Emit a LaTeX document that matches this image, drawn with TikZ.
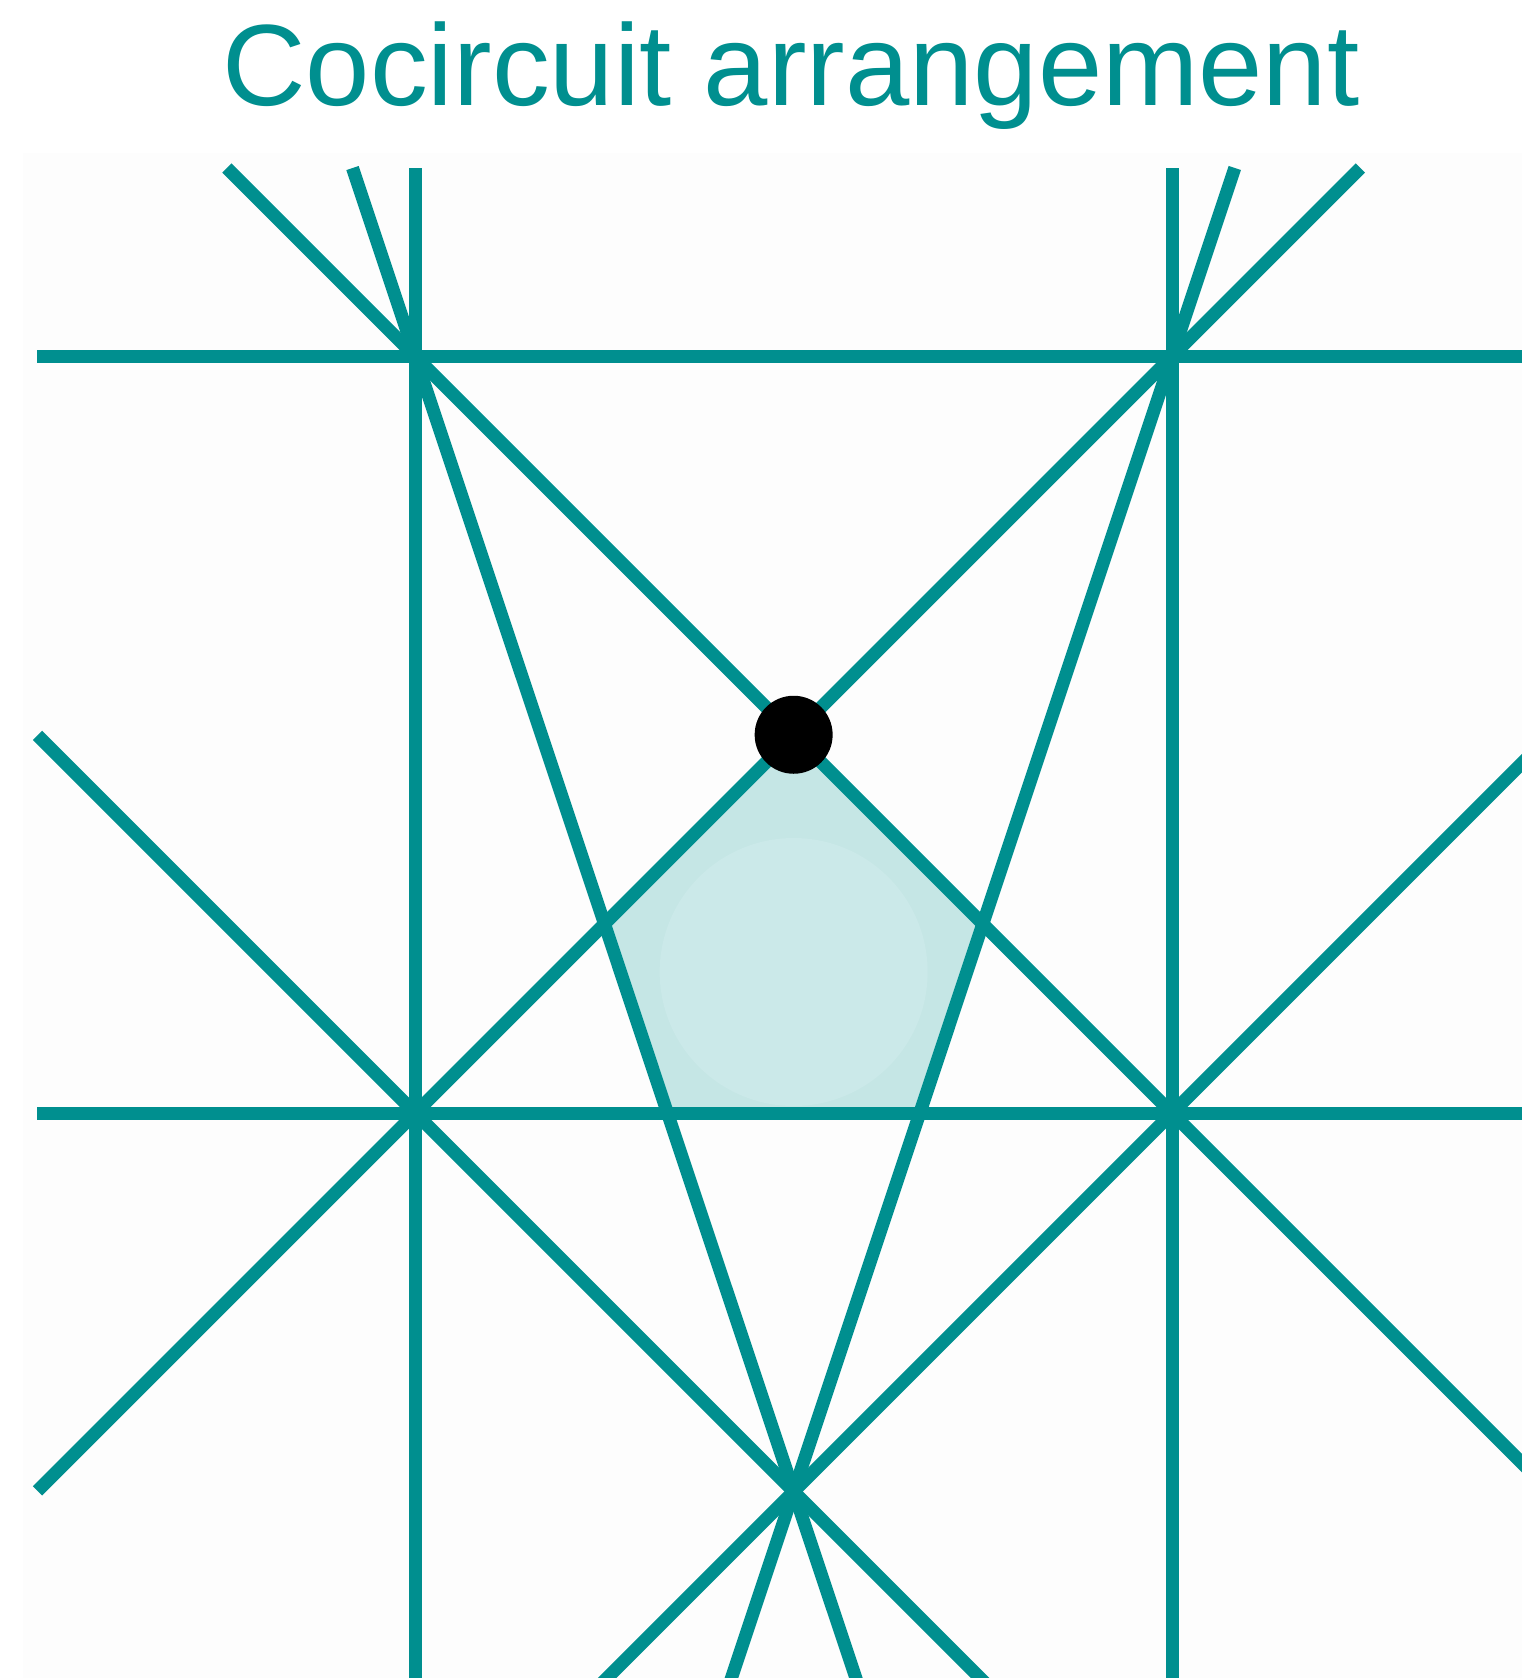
\documentclass[tikz,border=0pt]{standalone}
\usepackage{fontspec}
\setmainfont{Liberation Sans}
\definecolor{arrteal}{RGB}{0,143,143}
\definecolor{penfill}{RGB}{197,230,229}
\definecolor{penglow}{RGB}{203,233,233}
\definecolor{bggray}{RGB}{253,253,253}
\begin{document}
\begin{tikzpicture}[x=0.5pt,y=-0.5pt,
  arrline/.style={draw=arrteal, line width=6.5pt, line cap=butt},
  titletext/.style={text=arrteal, font=\fontsize{57.8}{60}\selectfont, inner sep=0pt, anchor=base}]
\useasboundingbox (0,0) rectangle (1522,1678);
\clip (0,0) rectangle (1522,1678);
\fill[white] (0,0) rectangle (1522,1678);
\fill[bggray] (23,153) rectangle (1522,1678);
% title
\node[titletext] (title) at (791,105) {Cocircuit arrangement};
% key points
\coordinate (A) at (415.3,356.4);
\coordinate (B) at (1172,356.4);
\coordinate (C) at (415.3,1113.1);
\coordinate (D) at (1172,1113.1);
\coordinate (P) at (793.65,734.75);
\coordinate (E) at (793.65,1491.45);
% pentagon
\coordinate (L) at (604.5,923.9);
\coordinate (BL) at (667.5,1113.1);
\coordinate (BR) at (919.8,1113.1);
\coordinate (R) at (982.8,923.9);
\fill[penfill] (P) -- (L) -- (BL) -- (BR) -- (R) -- cycle;
\begin{scope}
\clip (P) -- (L) -- (BL) -- (BR) -- (R) -- cycle;
\fill[penglow] (793.65,972) circle (134);
\end{scope}
% line end points
\coordinate (h1s) at (37,356.4);   \coordinate (h1e) at (1540,356.4);
\coordinate (h2s) at (37,1113.1);  \coordinate (h2e) at (1540,1113.1);
\coordinate (v1s) at (415.3,168);  \coordinate (v1e) at (415.3,1700);
\coordinate (v2s) at (1172,168);   \coordinate (v2e) at (1172,1700);
\coordinate (d1s) at (226.9,168);  \coordinate (d1e) at (1715.3,1656.4);
\coordinate (d2s) at (1360.4,168); \coordinate (d2e) at (37.5,1490.9);
\coordinate (d3s) at (37.5,735.3); \coordinate (d3e) at (1000,1697.8);
\coordinate (d4s) at (1540,745.1); \coordinate (d4e) at (580,1705.1);
\coordinate (s1s) at (352.5,168);  \coordinate (s1e) at (863.2,1700);
\coordinate (s2s) at (1234.8,168); \coordinate (s2e) at (724.1,1700);
% lines
\draw[arrline] (h1s) -- (A) -- (B) -- (h1e);
\draw[arrline] (h2s) -- (C) -- (D) -- (h2e);
\draw[arrline] (v1s) -- (A) -- (C) -- (v1e);
\draw[arrline] (v2s) -- (B) -- (D) -- (v2e);
\draw[arrline] (d1s) -- (A) -- (P) -- (D) -- (d1e);
\draw[arrline] (d2s) -- (B) -- (P) -- (C) -- (d2e);
\draw[arrline] (d3s) -- (C) -- (E) -- (d3e);
\draw[arrline] (d4s) -- (D) -- (E) -- (d4e);
\draw[arrline] (s1s) -- (A) -- (L) -- (BL) -- (E) -- (s1e);
\draw[arrline] (s2s) -- (B) -- (R) -- (BR) -- (E) -- (s2e);
% dot
\fill[black] (P) circle (39);
\end{tikzpicture}
\end{document}
